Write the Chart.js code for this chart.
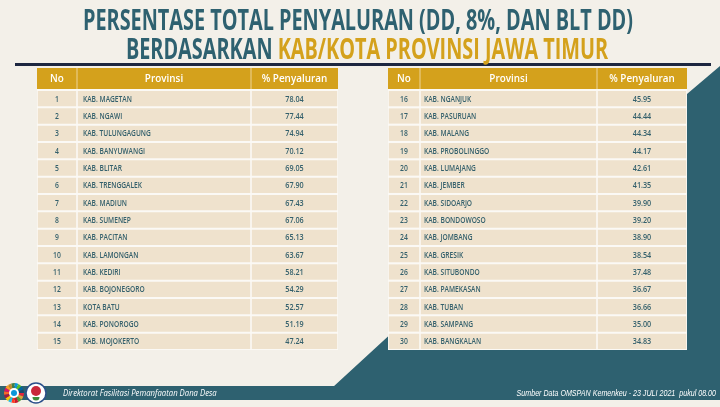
<!DOCTYPE html>
<html><head><meta charset="utf-8">
<script src="https://cdn.jsdelivr.net/npm/chart.js@4.4.0/dist/chart.umd.min.js"></script>
<style>html,body{margin:0;padding:0;background:#f3f0e9;}#wrap{width:720px;height:407px;position:relative;}</style>
</head><body><div id="wrap"><canvas id="c"></canvas></div>
<script>
// ---- data ----
const leftNo = [1,2,3,4,5,6,7,8,9,10,11,12,13,14,15];
const leftNames = ['KAB. MAGETAN','KAB. NGAWI','KAB. TULUNGAGUNG','KAB. BANYUWANGI','KAB. BLITAR','KAB. TRENGGALEK','KAB. MADIUN','KAB. SUMENEP','KAB. PACITAN','KAB. LAMONGAN','KAB. KEDIRI','KAB. BOJONEGORO','KOTA BATU','KAB. PONOROGO','KAB. MOJOKERTO'];
const leftValues = [78.04,77.44,74.94,70.12,69.05,67.90,67.43,67.06,65.13,63.67,58.21,54.29,52.57,51.19,47.24];
const rightNo = [16,17,18,19,20,21,22,23,24,25,26,27,28,29,30];
const rightNames = ['KAB. NGANJUK','KAB. PASURUAN','KAB. MALANG','KAB. PROBOLINGGO','KAB. LUMAJANG','KAB. JEMBER','KAB. SIDOARJO','KAB. BONDOWOSO','KAB. JOMBANG','KAB. GRESIK','KAB. SITUBONDO','KAB. PAMEKASAN','KAB. TUBAN','KAB. SAMPANG','KAB. BANGKALAN'];
const rightValues = [45.95,44.44,44.34,44.17,42.61,41.35,39.90,39.20,38.90,38.54,37.48,36.67,36.66,35.00,34.83];
const headers = ['No','Provinsi','% Penyaluran'];
const titleLine1 = 'PERSENTASE TOTAL PENYALURAN (DD, 8%, DAN BLT DD)';
const titleLine2a = 'BERDASARKAN ';
const titleLine2b = 'KAB/KOTA PROVINSI JAWA TIMUR';
const footLeft = 'Direktorat Fasilitasi Pemanfaatan Dana Desa';
const footRight = 'Sumber Data OMSPAN Kemenkeu - 23 JULI 2021  pukul 08.00';

// ---- layout / style ----
const C = {bg:'#f3f0e9', teal:'#2e6170', gold:'#d4a11c', cell:'#efe2cd', gap:'#fbf9f5', text:'#34606c', navy:'#1d2740'};
const tables = [
  {no:leftNo, names:leftNames, values:leftValues, cols:[[37,77],[77,251],[251,338]], pad:6},
  {no:rightNo, names:rightNames, values:rightValues, cols:[[388,420],[420,597],[597,687]], pad:4}
];
const HEAD = {top:68, bottom:89};

function txt(ctx, s, x, y, font, color, align, sx, base){
  ctx.save(); ctx.font = font; ctx.fillStyle = color; ctx.textAlign = align;
  ctx.textBaseline = base || 'middle'; ctx.translate(x, y); ctx.scale(sx, 1);
  ctx.fillText(s, 0, 0); ctx.restore();
}

const datasets = [];
tables.forEach(t => t.cols.forEach(c => {
  datasets.push({data: t.no.map(() => [c[0] + 0.8, c[1] - 0.8]), backgroundColor: C.cell,
    grouped:false, barPercentage:0.88, categoryPercentage:1, borderWidth:0});
}));

const decor = {
  id:'decor',
  beforeDraw(chart){
    const ctx = chart.ctx, area = chart.chartArea;
    ctx.save();
    ctx.fillStyle = C.bg; ctx.fillRect(0,0,chart.width,chart.height);
    // teal shape
    ctx.fillStyle = C.teal;
    ctx.beginPath();
    ctx.moveTo(720,66); ctx.lineTo(687,94); ctx.lineTo(687,200); ctx.lineTo(395,330);
    ctx.lineTo(333,387); ctx.lineTo(720,387); ctx.closePath(); ctx.fill();
    // footer band
    ctx.fillRect(0,386,720,14);
    // rule
    ctx.fillStyle = C.navy; ctx.fillRect(15,63,696,3);
    // table body backing (white separators)
    tables.forEach(t => {
      ctx.fillStyle = C.gap;
      ctx.fillRect(t.cols[0][0], HEAD.bottom, t.cols[2][1] - t.cols[0][0], area.bottom - HEAD.bottom);
    });
    // title
    ctx.font = 'bold 28px "Open Sans"';
    const w1 = ctx.measureText(titleLine1).width;
    const sx = 550 / w1;
    txt(ctx, titleLine1, 358, 30, 'bold 28px "Open Sans"', C.teal, 'center', sx, 'alphabetic');
    const wa = ctx.measureText(titleLine2a).width * sx, wb = ctx.measureText(titleLine2b).width * sx;
    const x0 = 367 - (wa + wb) / 2;
    txt(ctx, titleLine2a, x0, 59, 'bold 28px "Open Sans"', C.teal, 'left', sx, 'alphabetic');
    txt(ctx, titleLine2b, x0 + wa, 59, 'bold 28px "Open Sans"', C.gold, 'left', sx, 'alphabetic');
    // headers
    tables.forEach(t => {
      ctx.fillStyle = C.gold;
      ctx.fillRect(t.cols[0][0], HEAD.top, t.cols[2][1] - t.cols[0][0], HEAD.bottom - HEAD.top);
      ctx.fillStyle = 'rgba(255,255,255,0.55)';
      ctx.fillRect(t.cols[1][0] - 0.5, HEAD.top, 1, HEAD.bottom - HEAD.top);
      ctx.fillRect(t.cols[2][0] - 0.5, HEAD.top, 1, HEAD.bottom - HEAD.top);
      t.cols.forEach((c, i) => txt(ctx, headers[i], (c[0]+c[1])/2, (HEAD.top+HEAD.bottom)/2 + 0.5,
        '600 11.5px "Open Sans"', '#ffffff', 'center', 0.86));
    });
    // footer texts
    txt(ctx, footLeft, 63, 393.5, 'italic 9px "Open Sans"', '#ffffff', 'left', 0.86);
    txt(ctx, footRight, 716, 393.5, 'italic 9px "Liberation Sans"', '#ffffff', 'right', 0.79);
    // logos
    const sdg = ['#e5243b','#dda63a','#4c9f38','#c5192d','#ff3a21','#26bde2','#fcc30b','#a21942','#fd6925','#dd1367','#fd9d24','#bf8b2e','#3f7e44','#0a97d9','#56c02b','#00689d','#19486a'];
    const cx = 14, cy = 393;
    sdg.forEach((col, i) => {
      ctx.beginPath(); ctx.moveTo(cx,cy);
      ctx.arc(cx, cy, 10, i*2*Math.PI/17, (i+1)*2*Math.PI/17); ctx.closePath();
      ctx.fillStyle = col; ctx.fill();
    });
    ctx.beginPath(); ctx.arc(cx,cy,5,0,2*Math.PI); ctx.fillStyle='#ffffff'; ctx.fill();
    ctx.beginPath(); ctx.arc(cx,cy,3,0,2*Math.PI); ctx.fillStyle='#0a97d9'; ctx.fill();
    ctx.beginPath(); ctx.arc(36,393,10,0,2*Math.PI); ctx.fillStyle='#ffffff'; ctx.fill();
    ctx.lineWidth=1.5; ctx.strokeStyle='#2a4f8a'; ctx.stroke();
    ctx.beginPath(); ctx.arc(36,391,5,0,2*Math.PI); ctx.fillStyle='#c8283a'; ctx.fill();
    ctx.beginPath(); ctx.arc(36,397,3.5,0,Math.PI); ctx.fillStyle='#3c8c3c'; ctx.fill();
    ctx.restore();
  },
  afterDatasetsDraw(chart){
    const ctx = chart.ctx, y = chart.scales.y;
    tables.forEach(t => {
      t.no.forEach((n, i) => {
        const py = y.getPixelForValue(i) + 0.5;
        const c = t.cols;
        txt(ctx, String(n), (c[0][0]+c[0][1])/2, py, '600 8.5px "Open Sans"', C.text, 'center', 0.8);
        txt(ctx, t.names[i], c[1][0] + t.pad, py, '600 8.5px "Open Sans"', C.text, 'left', 0.78);
        txt(ctx, t.values[i].toFixed(2), (c[2][0]+c[2][1])/2, py, '600 8.5px "Open Sans"', C.text, 'center', 0.85);
      });
    });
  }
};

new Chart(document.getElementById('c'), {
  type:'bar',
  data:{labels: leftNo.map(String), datasets},
  options:{
    indexAxis:'y', responsive:true, maintainAspectRatio:false, animation:false,
    layout:{padding:{top:90,bottom:57,left:0,right:0}},
    plugins:{legend:{display:false}, tooltip:{enabled:false}, title:{display:false}},
    scales:{
      x:{type:'linear', min:0, max:720, display:false},
      y:{type:'category', display:false, offset:true, grid:{display:false}}
    },
    events:[]
  },
  plugins:[decor]
});
</script></body></html>
